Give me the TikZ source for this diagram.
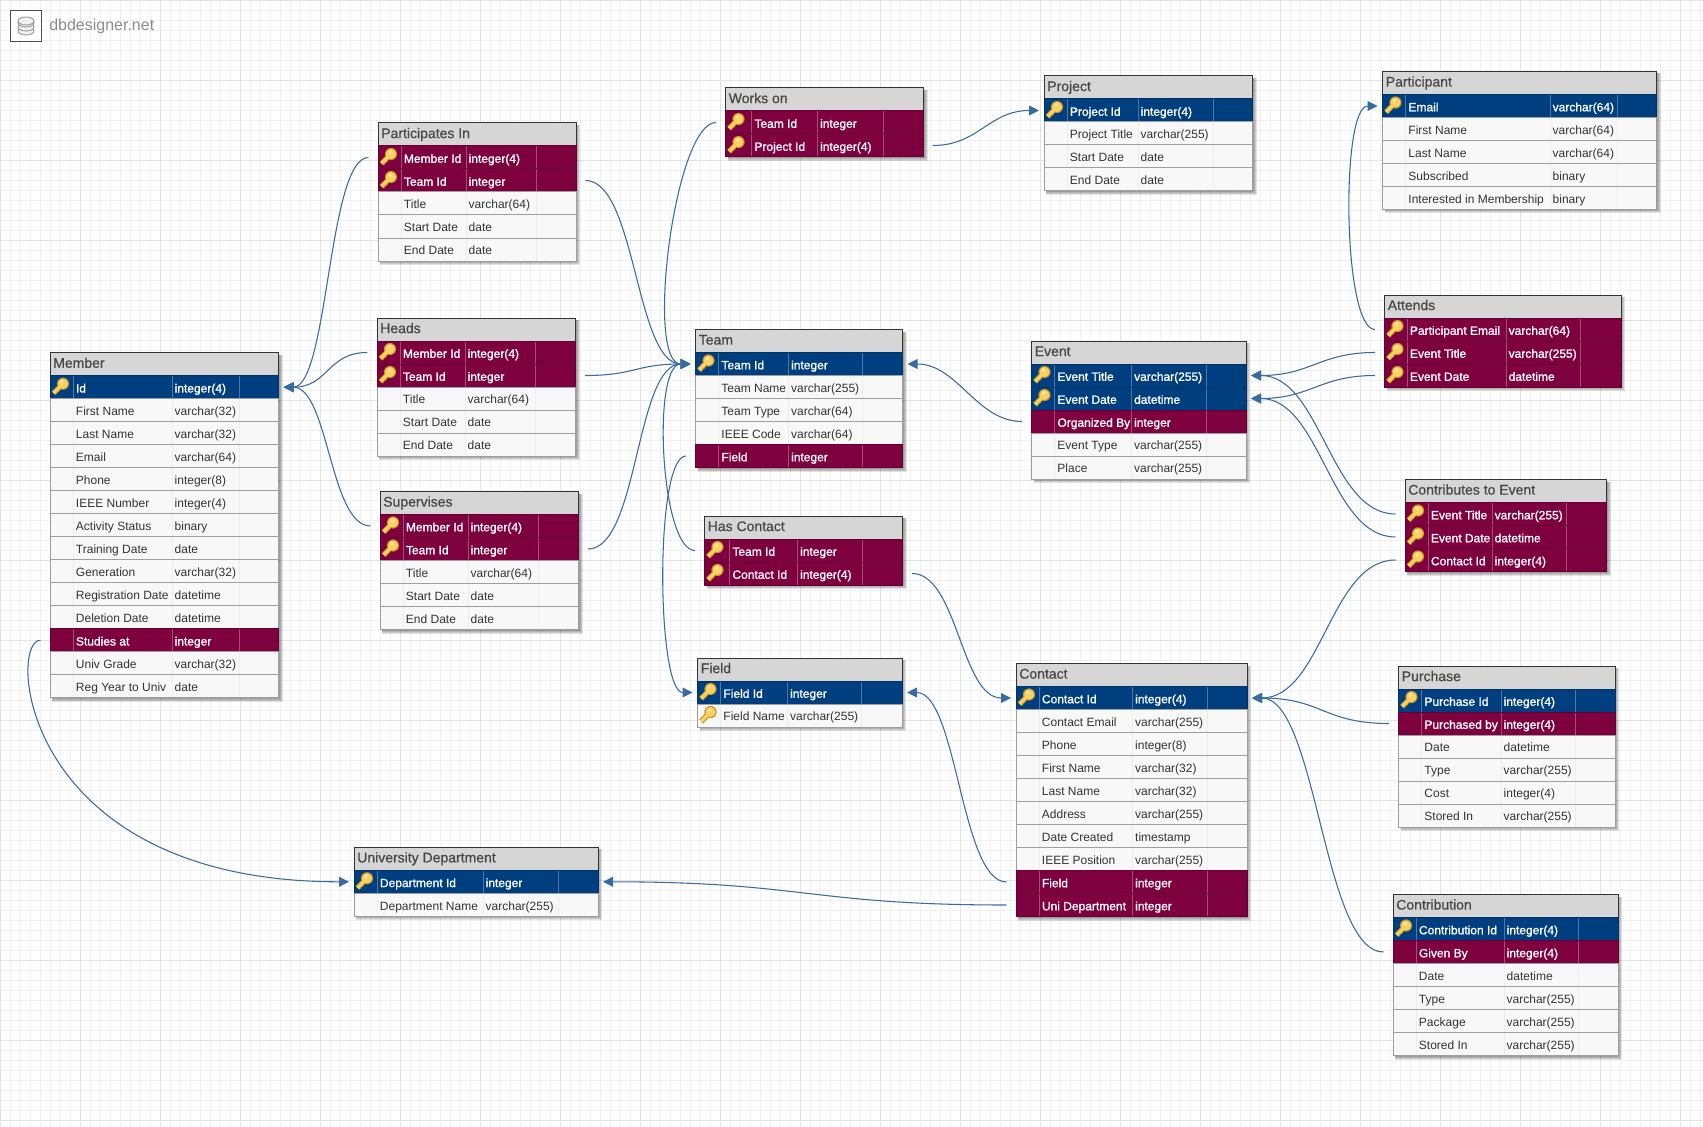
\documentclass[tikz,border=0pt]{standalone}
\usepackage{fontspec}
\setmainfont{Liberation Sans}
\newfontfamily\heavyfamily[FakeBold=1.1]{Liberation Sans}
\newfontfamily\titlefamily[FakeBold=0.5]{Liberation Sans}
\usetikzlibrary{arrows.meta}

\definecolor{dbnavy}{RGB}{0,63,127}
\definecolor{dbmaroon}{RGB}{127,0,63}
\definecolor{dbhead}{RGB}{214,214,214}
\definecolor{dbrow}{RGB}{248,248,248}
\definecolor{dbrel}{RGB}{56,108,160}
\definecolor{keygold}{RGB}{250,210,100}
\definecolor{keyedge}{RGB}{195,145,35}

\tikzset{
    x=0.75pt,y=-0.75pt,
    gridminor/.style={draw=black!6,line width=0.75pt},
    gridmajor/.style={draw=black!11,line width=0.75pt},
    headbox/.style={rectangle,draw=black!80,fill=dbhead,line width=0.75pt,inner sep=0pt,minimum height=17.25pt},
    rowbox/.style={rectangle,line width=0.75pt,inner sep=0pt,outer sep=0pt,outer xsep=3.75pt,minimum height=17.25pt},
    rowpk/.style={fill=dbnavy,draw=dbnavy!80!black},
    rowpf/.style={fill=dbmaroon,draw=dbmaroon!80!black},
    rowfk/.style={fill=dbmaroon,draw=dbmaroon!80!black},
    rowno/.style={fill=dbrow,draw=black!38},
    rownk/.style={fill=dbrow,draw=black!38},
    colpk/.style={draw=white,draw opacity=0.3,line width=0.75pt},
    colpf/.style={colpk},
    colfk/.style={colpk},
    colno/.style={draw=black!7,line width=0.75pt},
    colnk/.style={colno},
    celltext/.style={inner sep=0pt,anchor=base west,text=black!80,font=\fontsize{9}{11}\selectfont},
    textpk/.style={text=white,font=\fontsize{9}{11}\heavyfamily},
    textpf/.style={textpk},
    textfk/.style={textpk},
    textno/.style={},
    textnk/.style={},
    titletext/.style={inner sep=0pt,anchor=base west,text=black!72,font=\fontsize{10.5}{12}\titlefamily},
    rel/.style={-{Triangle[length=7.5pt,width=7.4pt]},draw=dbrel,line width=0.8pt,shorten <=3.4pt},
    goldkey/.pic={
        \draw[keyedge,line width=3.8pt] (1,-1) -- (-6.5,6.5);
        \draw[keyedge,line width=1.8pt] (-3,3) -- (-1,5) (-5.5,5.5) -- (-3.5,7.5);
        \fill[keyedge] (3,-3) circle[radius=4.6pt];
        \draw[keygold,line width=2.4pt] (1,-1) -- (-6.5,6.5);
        \fill[keygold] (3,-3) circle[radius=3.8pt];
        \fill[white,opacity=0.6] (2,-5) circle[radius=1.3pt];
    }
}

% rows are id/kind/name/type, kinds with a key icon get a \key... macro
\def\keypk{}
\def\keypf{}
\def\keynk{}

% id, title, left, top, key column end, name column end, type column end, right, rows
\newcommand{\dbtable}[9]{
    \foreach \rowid/\rowkind/\rowname/\rowtype [count=\n] in {#9}{\xdef\rowtotal{\n}}
    \pgfmathsetmacro{\tablebottom}{#4+23+23*\rowtotal}
    \foreach \s in {1,2,3,4}{
        \fill[black,opacity=0.11] (#3+2,#4+2) rectangle (#8+\s,\tablebottom+\s);
    }
    \pgfmathsetmacro{\tablemid}{(#3+#8)/2}
    \pgfmathsetlengthmacro{\tablewidth}{(#8-#3)*0.75pt}
    \node[headbox,minimum width=\tablewidth] (#1-head) at (\tablemid,#4+11.5) {};
    \node[titletext] (#1-title) at (#3+3,#4+15.1) {#2};
    \foreach \rowid/\rowkind/\rowname/\rowtype [count=\i from 0] in {#9}{
        \pgfmathsetmacro{\rowmid}{#4+23+23*\i+11.5}
        \node[rowbox,row\rowkind,minimum width=\tablewidth] (#1-\rowid) at (\tablemid,\rowmid) {};
        \draw[col\rowkind] (#5,\rowmid-11) -- (#5,\rowmid+11) (#6,\rowmid-11) -- (#6,\rowmid+11) (#7,\rowmid-11) -- (#7,\rowmid+11);
        \ifcsname key\rowkind\endcsname
            \pic at (#3+10,\rowmid-0.5) {goldkey};
        \fi
        \node[celltext,text\rowkind] (#1-\rowid-name) at (#5+2.7,\rowmid+5.3) {\rowname};
        \node[celltext,text\rowkind] (#1-\rowid-type) at (#6+2.4,\rowmid+5.3) {\rowtype};
    }
}

\begin{document}
\begin{tikzpicture}
    \useasboundingbox (0,0) rectangle (1703,1127);
    \fill[white] (0,0) rectangle (1703,1127);

    % grid paper
    \foreach \g in {0,10,...,1700} \draw[gridminor] (\g+0.5,0) -- (\g+0.5,1127);
    \foreach \g in {0,10,...,1120} \draw[gridminor] (0,\g+0.5) -- (1703,\g+0.5);
    \foreach \g in {0,80,...,1680} \draw[gridmajor] (\g+0.5,0) -- (\g+0.5,1127);
    \foreach \g in {0,80,...,1120} \draw[gridmajor] (0,\g+0.5) -- (1703,\g+0.5);

    % logo
    \node[draw=black!70,fill=white,line width=1pt,minimum size=23.4pt,inner sep=0pt] (logo) at (26,26) {};
    \foreach \y in {31,27,23}
        \draw[draw=black!40,fill=black!6,line width=0.7pt] (26,\y) ellipse[x radius=6pt,y radius=3pt];
    \draw[draw=black!40,fill=black!6,line width=0.7pt] (26,21) ellipse[x radius=6pt,y radius=3pt];
    \node[inner sep=0pt,anchor=base west,text=black!45,font=\fontsize{12}{14}\selectfont] (logotext) at (49,31) {dbdesigner.net};

    \dbtable{member}{Member}{50}{352.7}{73}{172}{239}{278.5}{
        id/pk/Id/integer(4),first/no/First Name/varchar(32),last/no/Last Name/varchar(32),
        email/no/Email/varchar(64),phone/no/Phone/integer(8),ieee/no/IEEE Number/integer(4),
        activity/no/Activity Status/binary,training/no/Training Date/date,generation/no/Generation/varchar(32),
        registration/no/Registration Date/datetime,deletion/no/Deletion Date/datetime,studies/fk/Studies at/integer,
        grade/no/Univ Grade/varchar(32),regyear/no/Reg Year to Univ/date}
    \dbtable{participates}{Participates In}{378}{123}{401}{466}{536}{576}{
        member/pf/Member Id/integer(4),team/pf/Team Id/integer,title/no/Title/varchar(64),
        start/no/Start Date/date,end/no/End Date/date}
    \dbtable{heads}{Heads}{377}{318}{400}{465}{535}{575.5}{
        member/pf/Member Id/integer(4),team/pf/Team Id/integer,title/no/Title/varchar(64),
        start/no/Start Date/date,end/no/End Date/date}
    \dbtable{supervises}{Supervises}{380}{491.5}{403}{468}{538}{578.5}{
        member/pf/Member Id/integer(4),team/pf/Team Id/integer,title/no/Title/varchar(64),
        start/no/Start Date/date,end/no/End Date/date}
    \dbtable{works}{Works on}{725.5}{88}{751.5}{817.5}{883.5}{923.5}{
        team/pf/Team Id/integer,project/pf/Project Id/integer(4)}
    \dbtable{project}{Project}{1044}{76}{1067}{1138}{1213}{1252.5}{
        id/pk/Project Id/integer(4),title/no/Project Title/varchar(255),start/no/Start Date/date,end/no/End Date/date}
    \dbtable{participant}{Participant}{1382.5}{71.5}{1405.5}{1550}{1617}{1656.5}{
        email/pk/Email/varchar(64),first/no/First Name/varchar(64),last/no/Last Name/varchar(64),
        subscribed/no/Subscribed/binary,interested/no/Interested in Membership/binary}
    \dbtable{attends}{Attends}{1384.5}{295}{1407}{1506}{1580}{1621}{
        email/pf/Participant Email/varchar(64),title/pf/Event Title/varchar(255),date/pf/Event Date/datetime}
    \dbtable{team}{Team}{695.5}{329.5}{718.5}{788.5}{862.5}{902.5}{
        id/pk/Team Id/integer,name/no/Team Name/varchar(255),type/no/Team Type/varchar(64),
        code/no/IEEE Code/varchar(64),field/fk/Field/integer}
    \dbtable{event}{Event}{1031.5}{341}{1054.5}{1131.5}{1206}{1246}{
        title/pk/Event Title/varchar(255),date/pk/Event Date/datetime,organized/fk/Organized By/integer,
        type/no/Event Type/varchar(255),place/no/Place/varchar(255)}
    \dbtable{hascontact}{Has Contact}{704.5}{516}{729.5}{797.5}{862.5}{902.5}{
        team/pf/Team Id/integer,contact/pf/Contact Id/integer(4)}
    \dbtable{contributes}{Contributes to Event}{1405}{479.5}{1428}{1492}{1566}{1606.5}{
        title/pf/Event Title/varchar(255),date/pf/Event Date/datetime,contact/pf/Contact Id/integer(4)}
    \dbtable{field}{Field}{697.5}{658}{720.5}{787.5}{861.5}{902}{
        id/pk/Field Id/integer,name/nk/Field Name/varchar(255)}
    \dbtable{contact}{Contact}{1016}{663.5}{1039}{1132.5}{1207}{1247}{
        id/pk/Contact Id/integer(4),email/no/Contact Email/varchar(255),phone/no/Phone/integer(8),
        first/no/First Name/varchar(32),last/no/Last Name/varchar(32),address/no/Address/varchar(255),
        created/no/Date Created/timestamp,position/no/IEEE Position/varchar(255),field/fk/Field/integer,
        uni/fk/Uni Department/integer}
    \dbtable{purchase}{Purchase}{1398.5}{666}{1421.5}{1501}{1575}{1615}{
        id/pk/Purchase Id/integer(4),by/fk/Purchased by/integer(4),date/no/Date/datetime,
        type/no/Type/varchar(255),cost/no/Cost/integer(4),stored/no/Stored In/varchar(255)}
    \dbtable{contribution}{Contribution}{1393}{894.5}{1416}{1504}{1578}{1618}{
        id/pk/Contribution Id/integer(4),given/fk/Given By/integer(4),date/no/Date/datetime,
        type/no/Type/varchar(255),package/no/Package/varchar(255),stored/no/Stored In/varchar(255)}
    \dbtable{univ}{University Department}{354}{847.3}{377}{483}{558}{598}{
        id/pk/Department Id/integer,name/no/Department Name/varchar(255)}

    % relations, same shape as the designer draws them
    \draw[rel] (participates-member.west) .. controls +(-45,0) and +(45,0) .. (member-id.east);
    \draw[rel] (heads-member.west) .. controls +(-45,0) and +(45,0) .. (member-id.east);
    \draw[rel] (supervises-member.west) .. controls +(-45,0) and +(45,0) .. (member-id.east);
    \draw[rel] (member-studies.west) .. controls +(-38,0) and +(-329,0) .. (univ-id.west);
    \draw[rel] (participates-team.east) .. controls +(55,0) and +(-55,0) .. (team-id.west);
    \draw[rel] (heads-team.east) .. controls +(55,0) and +(-55,0) .. (team-id.west);
    \draw[rel] (supervises-team.east) .. controls +(55,0) and +(-55,0) .. (team-id.west);
    \draw[rel] (works-team.west) .. controls +(-46,0) and +(-46,0) .. (team-id.west);
    \draw[rel] (hascontact-team.west) .. controls +(-39,0) and +(-39,0) .. (team-id.west);
    \draw[rel] (team-field.west) .. controls +(-36,0) and +(-36,0) .. (field-id.west);
    \draw[rel] (works-project.east) .. controls +(50,0) and +(-50,0) .. (project-id.west);
    \draw[rel] (event-organized.west) .. controls +(-50,0) and +(50,0) .. (team-id.east);
    \draw[rel] (attends-title.west) .. controls +(-60,0) and +(60,0) .. (event-title.east);
    \draw[rel] (attends-date.west) .. controls +(-60,0) and +(60,0) .. (event-date.east);
    \draw[rel] (contributes-title.west) .. controls +(-70,0) and +(70,0) .. (event-title.east);
    \draw[rel] (contributes-date.west) .. controls +(-70,0) and +(70,0) .. (event-date.east);
    \draw[rel] (attends-email.west) .. controls +(-37,0) and +(-37,0) .. (participant-email.west);
    \draw[rel] (contributes-contact.west) .. controls +(-70,0) and +(70,0) .. (contact-id.east);
    \draw[rel] (purchase-by.west) .. controls +(-70,0) and +(70,0) .. (contact-id.east);
    \draw[rel] (contribution-given.west) .. controls +(-65,0) and +(65,0) .. (contact-id.east);
    \draw[rel] (hascontact-contact.east) .. controls +(50,0) and +(-50,0) .. (contact-id.west);
    \draw[rel] (contact-field.west) .. controls +(-50,0) and +(50,0) .. (field-id.east);
    \draw[rel] (contact-uni.west) .. controls +(-200,0) and +(200,0) .. (univ-id.east);
\end{tikzpicture}
\end{document}
